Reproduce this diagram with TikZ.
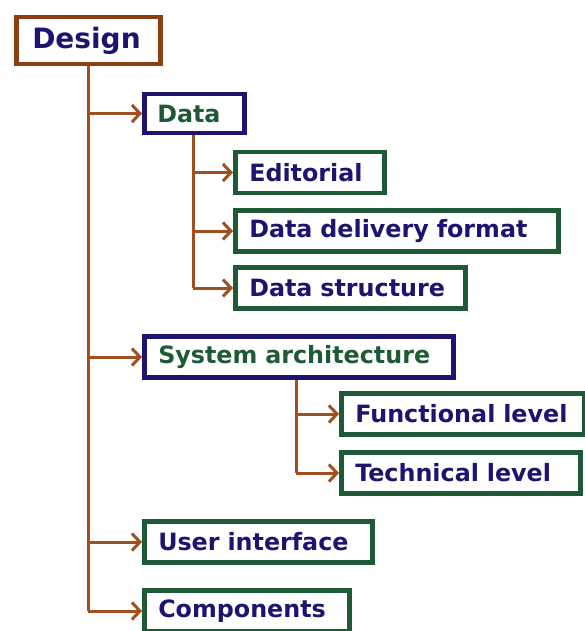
\documentclass[tikz,border=0pt]{standalone}
\usepackage{fontspec}
\setmainfont{DejaVu Sans}
\usetikzlibrary{arrows.meta,calc}
\definecolor{brn}{HTML}{A0501E}
\definecolor{dbrn}{HTML}{8E3E12}
\definecolor{navy}{HTML}{1C1470}
\definecolor{dgreen}{HTML}{1E5A36}
\tikzset{
  box/.style={draw, line width=4.5pt, fill=white, anchor=west, inner xsep=14pt,
    align=left, minimum height=#1, font=\fontsize{23.8}{27}\selectfont\bfseries},
  navybox/.style={box=41pt, draw=navy, text=dgreen},
  greenbox/.style={box=41pt, draw=dgreen, text=navy},
  conn/.style={draw=brn, line width=3pt},
  arr/.style={conn, -{Straight Barb[length=8pt,width=17pt,line width=3pt]}}
}
\begin{document}
\begin{tikzpicture}[x=1pt,y=-1pt]
\useasboundingbox (0,0) rectangle (584,631);
\node[box=47pt, draw=dbrn, text=navy, text width=112pt, inner xsep=16pt,
  font=\fontsize{28}{31}\selectfont\bfseries] (design) at (14,40.5) {\mbox{Design}};
\node[navybox, text width=74pt, inner xsep=13pt, minimum height=39pt] (data) at (142,113.5) {\mbox{Data}};
\node[greenbox, text width=121pt] (edit) at (233,172.5) {\mbox{Editorial}};
\node[greenbox, text width=295pt] (ddf) at (233,231) {\mbox{Data delivery format}};
\node[greenbox, text width=202pt] (ds) at (233,288) {\mbox{Data structure}};
\node[navybox, text width=281pt] (sys) at (142,357) {\mbox{System architecture}};
\node[greenbox, text width=215pt] (func) at (339,414) {\mbox{Functional level}};
\node[greenbox, text width=211pt] (tech) at (339,473) {\mbox{Technical level}};
\node[greenbox, text width=200pt] (ui) at (142,542) {\mbox{User interface}};
\node[greenbox, text width=177pt] (comp) at (142,611) {\mbox{Components}};
\coordinate (trunk) at ($(design.south west)+(74,0)$);
\coordinate (dtrunk) at ($(data.south west)+(51,0)$);
\coordinate (strunk) at ($(sys.south west)+(154,0)$);
\draw[conn] (trunk) -- (comp.west -| trunk);
\draw[conn] (dtrunk) -- (ds.west -| dtrunk);
\draw[conn] (strunk) -- (tech.west -| strunk);
\foreach \n in {data,sys,ui,comp} \draw[arr] (\n.west -| trunk) -- (\n.west);
\foreach \n in {edit,ddf,ds} \draw[arr] (\n.west -| dtrunk) -- (\n.west);
\foreach \n in {func,tech} \draw[arr] (\n.west -| strunk) -- (\n.west);
\end{tikzpicture}
\end{document}
